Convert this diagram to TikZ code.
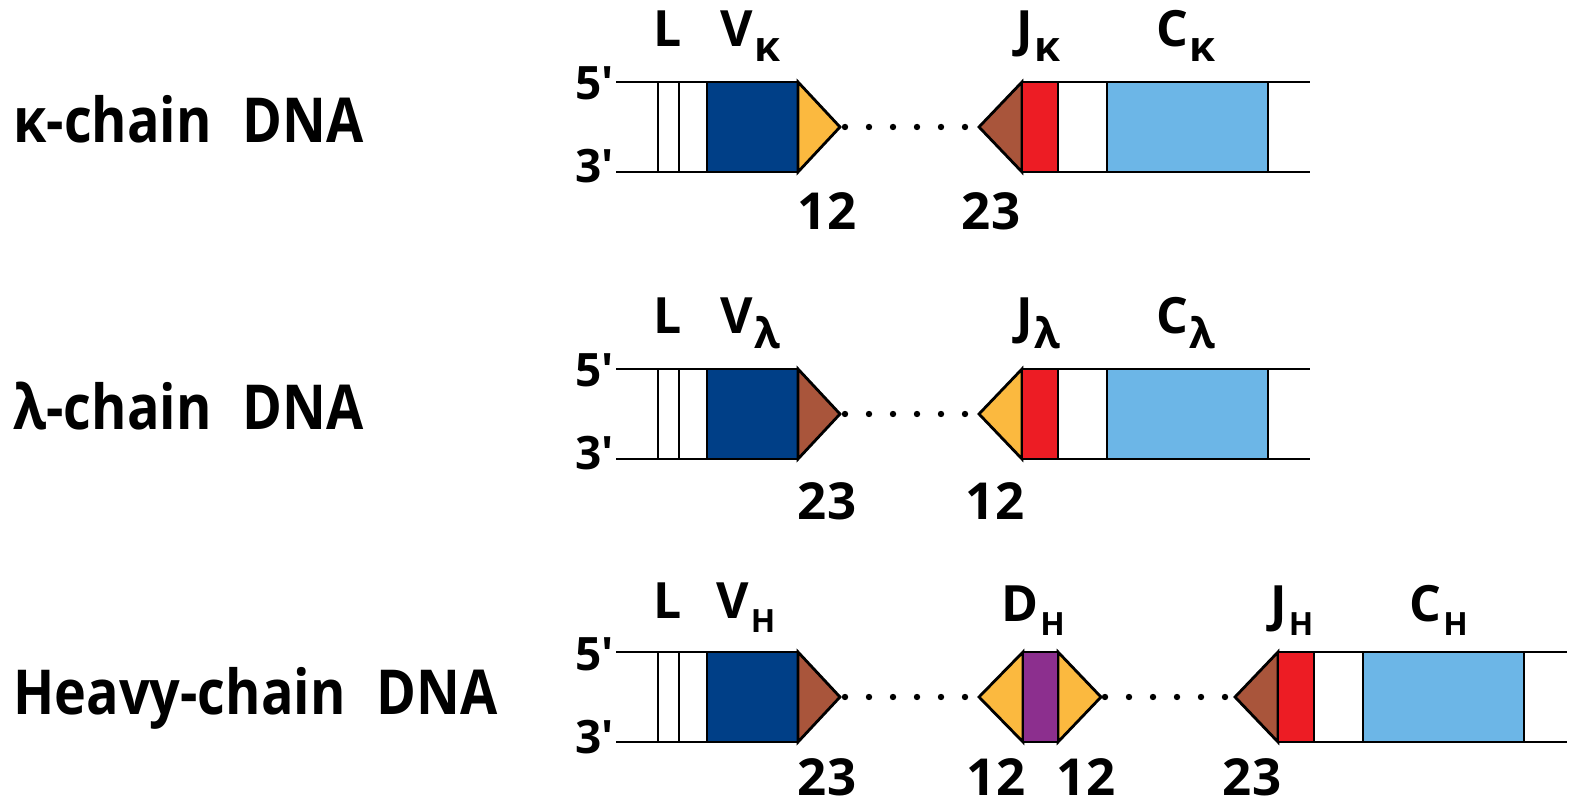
\documentclass[tikz,border=0pt]{standalone}
\usepackage{fontspec}
\newfontfamily\labfont{Open Sans}
\newfontfamily\titlefont{Open Sans}[FakeStretch=0.87]
\definecolor{vblue}{HTML}{003F87}
\definecolor{rssorange}{HTML}{FBB93F}
\definecolor{rssbrown}{HTML}{A9553B}
\definecolor{jred}{HTML}{ED1C24}
\definecolor{cblue}{HTML}{6CB6E7}
\definecolor{dpurple}{HTML}{8C2F8E}
% Greek subscript (kappa, lambda) and Latin subscript (H)
\newcommand\gsub[1]{\kern0.6pt\raisebox{-7.5pt}{\fontsize{21}{21}\selectfont #1}}
\newcommand\hsub[1]{\kern1pt\raisebox{-7pt}{\fontsize{16}{16}\selectfont #1}}
\newcommand\prm{\textquotesingle}
\begin{document}
\begin{tikzpicture}[x=0.5pt,y=-0.5pt,
  strand/.style={draw=black,line width=1.4pt},
  seg/.style={draw=black,line width=1.4pt,line join=miter},
  title/.style={anchor=base west,inner sep=0pt,font=\titlefont\bfseries\fontsize{31}{31}\selectfont},
  gene/.style={anchor=base west,inner sep=0pt,font=\labfont\bfseries\fontsize{25}{25}\selectfont},
  rss/.style={anchor=base,inner sep=0pt,font=\labfont\bfseries\fontsize{25.5}{25.5}\selectfont},
  endlab/.style={anchor=base east,inner sep=0pt,font=\labfont\bfseries\fontsize{23}{23}\selectfont},
  dot/.style={fill=black}]
\useasboundingbox (0,0) rectangle (1570,807);

% ---------- kappa light chain ----------
\begin{scope}[shift={(0,82)}]
  \node[title] (t1) at (13,61) {κ-chain\hspace{0.5em}DNA};
  \node[endlab] (p5a) at (614,18) {5\prm};
  \node[endlab] (p3a) at (614,101) {3\prm};
  \draw[strand] (616,0) -- (798,0) (616,90) -- (798,90);
  \draw[strand] (1022,0) -- (1310,0) (1022,90) -- (1310,90);
  \filldraw[seg,fill=white] (658,0) rectangle (679,90);
  \filldraw[seg,fill=white] (679,0) rectangle (707,90);
  \filldraw[seg,fill=vblue] (707,0) rectangle (798,90);
  \filldraw[seg,fill=rssorange] (798,0) -- (840,45) coordinate (va) -- (798,90) -- cycle;
  \foreach \x in {845,869,...,965} \fill[dot] (\x,45) circle[radius=3.2];
  \filldraw[seg,fill=rssbrown] (1022,0) -- (979,45) coordinate (ja) -- (1022,90) -- cycle;
  \filldraw[seg,fill=jred] (1022,0) rectangle (1058,90);
  \filldraw[seg,fill=cblue] (1107,0) rectangle (1268,90);
  \node[gene] (la) at (653,-35) {L};
  \node[gene] (vla) at (720,-35) {V\gsub{κ}};
  \node[gene] (jla) at (1016,-35) {J\gsub{κ}};
  \node[gene] (cla) at (1156,-35) {C\gsub{κ}};
  \node[rss] (na1) at (827,148) {12};
  \node[rss] (na2) at (991,148) {23};
\end{scope}

% ---------- lambda light chain ----------
\begin{scope}[shift={(0,369)}]
  \node[title] (t2) at (13,61) {λ-chain\hspace{0.5em}DNA};
  \node[endlab] (p5b) at (614,18) {5\prm};
  \node[endlab] (p3b) at (614,101) {3\prm};
  \draw[strand] (616,0) -- (798,0) (616,90) -- (798,90);
  \draw[strand] (1022,0) -- (1310,0) (1022,90) -- (1310,90);
  \filldraw[seg,fill=white] (658,0) rectangle (679,90);
  \filldraw[seg,fill=white] (679,0) rectangle (707,90);
  \filldraw[seg,fill=vblue] (707,0) rectangle (798,90);
  \filldraw[seg,fill=rssbrown] (798,0) -- (840,45) coordinate (vb) -- (798,90) -- cycle;
  \foreach \x in {845,869,...,965} \fill[dot] (\x,45) circle[radius=3.2];
  \filldraw[seg,fill=rssorange] (1022,0) -- (979,45) coordinate (jb) -- (1022,90) -- cycle;
  \filldraw[seg,fill=jred] (1022,0) rectangle (1058,90);
  \filldraw[seg,fill=cblue] (1107,0) rectangle (1268,90);
  \node[gene] (lb) at (653,-35) {L};
  \node[gene] (vlb) at (720,-35) {V\gsub{λ}};
  \node[gene] (jlb) at (1016,-35) {J\gsub{λ}};
  \node[gene] (clb) at (1156,-35) {C\gsub{λ}};
  \node[rss] (nb1) at (827,151) {23};
  \node[rss] (nb2) at (995,151) {12};
\end{scope}

% ---------- heavy chain ----------
\begin{scope}[shift={(0,652)}]
  \node[title] (t3) at (13,62) {Heavy-chain\hspace{0.5em}DNA};
  \node[endlab] (p5c) at (614,18) {5\prm};
  \node[endlab] (p3c) at (614,101) {3\prm};
  \draw[strand] (616,0) -- (798,0) (616,90) -- (798,90);
  \draw[strand] (1278,0) -- (1567,0) (1278,90) -- (1567,90);
  \filldraw[seg,fill=white] (658,0) rectangle (679,90);
  \filldraw[seg,fill=white] (679,0) rectangle (707,90);
  \filldraw[seg,fill=vblue] (707,0) rectangle (798,90);
  \filldraw[seg,fill=rssbrown] (798,0) -- (840,45) coordinate (vc) -- (798,90) -- cycle;
  \foreach \x in {845,869,...,965} \fill[dot] (\x,45) circle[radius=3.2];
  \filldraw[seg,fill=rssorange] (1023,0) -- (979,45) -- (1023,90) -- cycle;
  \filldraw[seg,fill=rssorange] (1058,0) -- (1101,45) -- (1058,90) -- cycle;
  \filldraw[seg,fill=dpurple] (1023,0) rectangle (1058,90);
  \foreach \x in {1105,1129,...,1225} \fill[dot] (\x,45) circle[radius=3.2];
  \filldraw[seg,fill=rssbrown] (1278,0) -- (1235,45) coordinate (jc) -- (1278,90) -- cycle;
  \filldraw[seg,fill=jred] (1278,0) rectangle (1314,90);
  \filldraw[seg,fill=cblue] (1363,0) rectangle (1524,90);
  \node[gene] (lc) at (653,-34) {L};
  \node[gene] (vlc) at (716,-34) {V\hsub{H}};
  \node[gene] (dlc) at (1001,-30) {D\hsub{H}};
  \node[gene] (jlc) at (1270,-30) {J\hsub{H}};
  \node[gene] (clc) at (1409,-30) {C\hsub{H}};
  \node[rss] (nc1) at (827,143) {23};
  \node[rss] (nc2) at (996,143) {12};
  \node[rss] (nc3) at (1086,143) {12};
  \node[rss] (nc4) at (1252,143) {23};
\end{scope}
\end{tikzpicture}
\end{document}
